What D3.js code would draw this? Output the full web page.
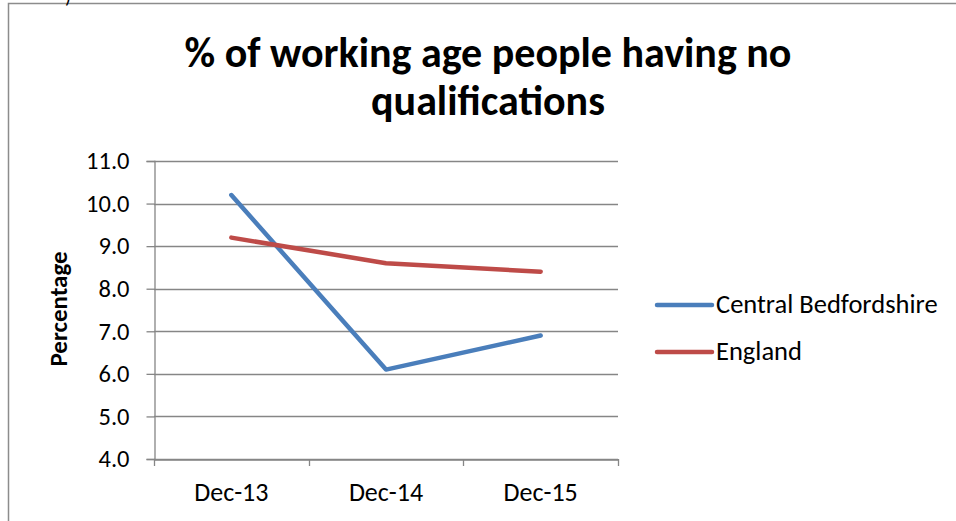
<!DOCTYPE html>
<html>
<head>
<meta charset="utf-8">
<script src="https://cdn.jsdelivr.net/npm/d3@7"></script>
<style>
  html, body { margin: 0; padding: 0; background: #fff; }
  svg { display: block; }
  text { font-family: Carlito, Lato, "Open Sans", sans-serif; fill: #000; }
</style>
</head>
<body>
<svg id="chart" width="956" height="521"></svg>
<script>
// Share of working-age people with no qualifications
const periods = ["Dec-13", "Dec-14", "Dec-15"];
const centralBedfordshire = [10.2, 6.1, 6.9];
const england = [9.2, 8.6, 8.4];
const seriesNames = ["Central Bedfordshire", "England"];
const seriesColors = ["#4A7EBB", "#BE4B48"];
const yTicks = [4, 5, 6, 7, 8, 9, 10, 11];
const titleLines = ["% of working age people having no", "qualifications"];

const series = [
  { name: seriesNames[0], color: seriesColors[0], values: centralBedfordshire },
  { name: seriesNames[1], color: seriesColors[1], values: england }
];

const fontStack = "Carlito, Lato, 'Open Sans', sans-serif";
const svg = d3.select("#chart");

// chart frame
svg.append("rect")
  .attr("x", 8.5).attr("y", 3.5)
  .attr("width", 960).attr("height", 540)
  .attr("fill", "#fff")
  .attr("stroke", "#8c8c8c").attr("stroke-width", 1.5);

svg.append("text")
  .attr("x", 65).attr("y", 3)
  .attr("font-size", 20)
  .text(")");

const plot = { left: 154, right: 618, top: 161, bottom: 459 };

const x = d3.scaleBand()
  .domain(periods)
  .range([plot.left, plot.right]);

const y = d3.scaleLinear()
  .domain([4, 11])
  .range([plot.bottom, plot.top]);

// title
svg.append("text")
  .attr("text-anchor", "middle")
  .attr("font-weight", "bold")
  .attr("font-size", 42)
  .selectAll("tspan")
  .data(titleLines)
  .join("tspan")
  .attr("x", 488)
  .attr("y", (d, i) => 67 + i * 48)
  .text(d => d);

// horizontal gridlines
svg.append("g")
  .selectAll("line")
  .data(yTicks)
  .join("line")
  .attr("x1", plot.left).attr("x2", plot.right)
  .attr("y1", d => Math.round(y(d)) + 0.5)
  .attr("y2", d => Math.round(y(d)) + 0.5)
  .attr("stroke", "#868686").attr("stroke-width", 1.3);

// y axis
const yAxis = svg.append("g")
  .attr("transform", `translate(${plot.left + 0.5},0)`)
  .call(d3.axisLeft(y).tickValues(yTicks).tickFormat(d3.format(".1f")).tickSize(8).tickPadding(17));
yAxis.select(".domain").attr("stroke", "#868686").attr("stroke-width", 1.3);
yAxis.selectAll(".tick line").attr("stroke", "#868686").attr("stroke-width", 1.3);
yAxis.selectAll(".tick text")
  .attr("font-family", fontStack)
  .attr("font-size", 24.5).attr("fill", "#000");

// x axis
const xAxis = svg.append("g")
  .attr("transform", `translate(0,${Math.round(plot.bottom) + 0.5})`)
  .call(d3.axisBottom(x).tickSize(0).tickPadding(23));
xAxis.select(".domain").attr("stroke", "#868686").attr("stroke-width", 1.3);
xAxis.selectAll(".tick text")
  .attr("font-family", fontStack)
  .attr("font-size", 26).attr("fill", "#000");

// category boundary ticks
const boundaries = periods.map(p => x(p)).concat([x.range()[1]]);
svg.append("g")
  .selectAll("line")
  .data(boundaries)
  .join("line")
  .attr("x1", d => Math.round(d) + 0.5).attr("x2", d => Math.round(d) + 0.5)
  .attr("y1", plot.bottom).attr("y2", plot.bottom + 7)
  .attr("stroke", "#868686").attr("stroke-width", 1.3);

// y axis title
svg.append("text")
  .attr("transform", "translate(67,309) rotate(-90)")
  .attr("text-anchor", "middle")
  .attr("font-weight", "bold")
  .attr("font-size", 25)
  .text("Percentage");

// series lines
const line = d3.line()
  .x((d, i) => x(periods[i]) + x.bandwidth() / 2)
  .y(d => y(d));

svg.append("g")
  .selectAll("path")
  .data(series)
  .join("path")
  .attr("d", d => line(d.values))
  .attr("fill", "none")
  .attr("stroke", d => d.color)
  .attr("stroke-width", 4.5)
  .attr("stroke-linecap", "round")
  .attr("stroke-linejoin", "round");

// legend
const legend = svg.append("g")
  .selectAll("g")
  .data(series)
  .join("g")
  .attr("transform", (d, i) => `translate(657,${305 + i * 47})`);
legend.append("line")
  .attr("x1", 0).attr("x2", 55)
  .attr("stroke", d => d.color)
  .attr("stroke-width", 4.5)
  .attr("stroke-linecap", "round");
legend.append("text")
  .attr("x", 59).attr("y", 8)
  .attr("font-size", 26.5)
  .text(d => d.name);
</script>
</body>
</html>
